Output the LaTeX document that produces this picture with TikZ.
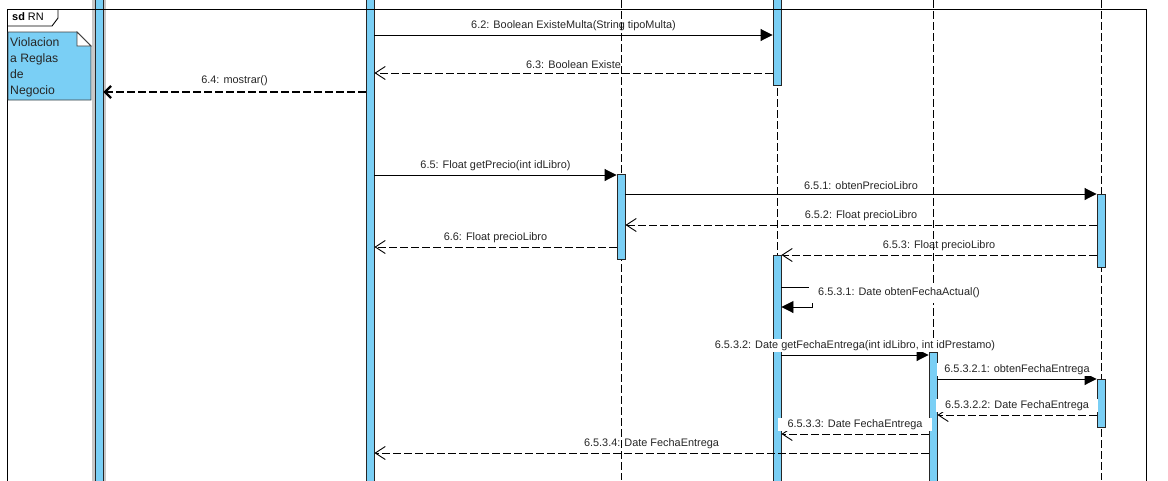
\documentclass[tikz,border=0pt]{standalone}
\usepackage{fontspec}
\setmainfont{Liberation Sans}
\usetikzlibrary{arrows.meta, positioning}
\definecolor{celeste}{RGB}{122,207,245}
\definecolor{sombra}{RGB}{200,200,200}
\tikzstyle{activacion} = [draw=black!85, fill=celeste, line width=0.9pt, minimum width=8pt, inner sep=0pt, anchor=north]
\tikzstyle{vida} = [black, line width=0.9pt, dash pattern=on 8pt off 3pt]
\tikzstyle{mensaje} = [black, line width=0.9pt, -{Triangle[length=12pt, width=12pt]}]
\tikzstyle{retorno} = [black, line width=0.9pt, dash pattern=on 8pt off 3pt, -{Straight Barb[length=10pt, width=13pt, line width=0.9pt]}]
\tikzstyle{etiqueta} = [font=\fontsize{10.9}{12}\selectfont, inner sep=1pt, text=black!85]
\tikzstyle{etiquetab} = [etiqueta, fill=white]

\begin{document}
\begin{tikzpicture}[x=1pt, y=-1pt]
	\useasboundingbox (0,0) rectangle (1168,480);
	% lineas de vida
	\draw[vida] (621,0) -- (621,480);
	\draw[vida] (777,0) -- (777,480);
	\draw[vida] (933,0) -- (933,480);
	\draw[vida] (1101,0) -- (1101,480);
	% barras de activacion
	\fill[sombra] (92,-2) rectangle (106,485);
	\node[activacion, minimum height=490pt] (b1) at (99,-3) {};
	\node[activacion, minimum height=490pt] (b2) at (370,-3) {};
	\node[activacion, minimum height=85pt] (b3) at (621,174) {};
	\node[activacion, minimum height=88pt] (b4a) at (777,-3) {};
	\node[activacion, minimum height=230pt] (b4b) at (777,255) {};
	\node[activacion, minimum height=130pt] (b5) at (933,352) {};
	\node[activacion, minimum height=73pt] (b6a) at (1101,194) {};
	\node[activacion, minimum height=48pt] (b6b) at (1101,379) {};
	% marco
	\draw[line width=0.9pt] (7,485) -- (7,9) -- (1146,9) -- (1146,485);
	\draw[line width=0.9pt] (7,26) -- (52,26) -- (58,18) -- (58,9);
	\node[font=\fontsize{10.9}{12}\selectfont, inner sep=0pt, anchor=west] (titulo) at (12,17) {\textbf{sd} RN};
	% nota
	\draw[draw=black!75, fill=celeste, line width=0.8pt] (8,32) -- (77,32) -- (91,46) -- (91,100) -- (8,100) -- cycle;
	\draw[draw=black!75, fill=white, line width=0.8pt] (77,32) -- (77,46) -- (91,46) -- cycle;
	\node[font=\fontsize{12.2}{16}\selectfont, align=left, inner sep=0pt, anchor=north west, text=black!85] (nota) at (10,37) {Violacion\\a Reglas\\de\\Negocio};
	% mensajes
	\draw[mensaje] (b2.east |- 0,35) -- (b4a.west |- 0,35) node[etiqueta, midway, above=3pt] {6.2: Boolean ExisteMulta(String tipoMulta)};
	\draw[retorno] (b4a.west |- 0,73) -- (b2.east |- 0,73) node[etiqueta, midway, above=3pt] {6.3: Boolean Existe};
	\draw[black, line width=2.6pt, dash pattern=on 8pt off 3pt, -{Straight Barb[length=6pt, width=12pt, line width=2.2pt]}] (b2.west |- 0,92) -- (b1.east |- 0,92) node[etiqueta, midway, above=4pt] {6.4: mostrar()};
	\draw[mensaje] (b2.east |- 0,175) -- (b3.west |- 0,175) node[etiqueta, midway, above=3pt] {6.5: Float getPrecio(int idLibro)};
	\draw[mensaje] (b3.east |- 0,194) -- (b6a.west |- 0,194) node[etiqueta, midway, above=3pt] {6.5.1: obtenPrecioLibro};
	\draw[retorno] (b6a.west |- 0,225) -- (b3.east |- 0,225) node[etiqueta, midway, above=3pt] {6.5.2: Float precioLibro};
	\draw[retorno] (b3.west |- 0,247) -- (b2.east |- 0,247) node[etiqueta, midway, above=3pt] {6.6: Float precioLibro};
	\draw[retorno] (b6a.west |- 0,255) -- (b4b.east |- 0,255) node[etiqueta, midway, above=3pt] {6.5.3: Float precioLibro};
	\draw[mensaje] (b4b.east |- 0,287) -- (812,287) -- (812,307) -- (b4b.east |- 0,307);
	\node[etiquetab, anchor=west, inner xsep=9pt, inner ysep=5pt] (m6531) at (809,293) {6.5.3.1: Date obtenFechaActual()};
	\draw[mensaje] (b4b.east |- 0,355) -- (b5.west |- 0,355) node[etiquetab, midway, above=3pt] {6.5.3.2: Date getFechaEntrega(int idLibro, int idPrestamo)};
	\draw[mensaje] (b5.east |- 0,379) -- (b6b.west |- 0,379) node[etiquetab, midway, above=3pt, minimum width=160pt] {6.5.3.2.1: obtenFechaEntrega};
	\draw[retorno] (b6b.west |- 0,415) -- (b5.east |- 0,415) node[etiquetab, midway, above=3pt, minimum width=162pt] {6.5.3.2.2: Date FechaEntrega};
	\draw[retorno] (b5.west |- 0,434) -- (b4b.east |- 0,434) node[etiquetab, midway, above=3pt, minimum width=154pt] {6.5.3.3: Date FechaEntrega};
	\draw[retorno] (b5.west |- 0,453) -- (b2.east |- 0,453) node[etiqueta, midway, above=3pt] {6.5.3.4: Date FechaEntrega};
\end{tikzpicture}
\end{document}
